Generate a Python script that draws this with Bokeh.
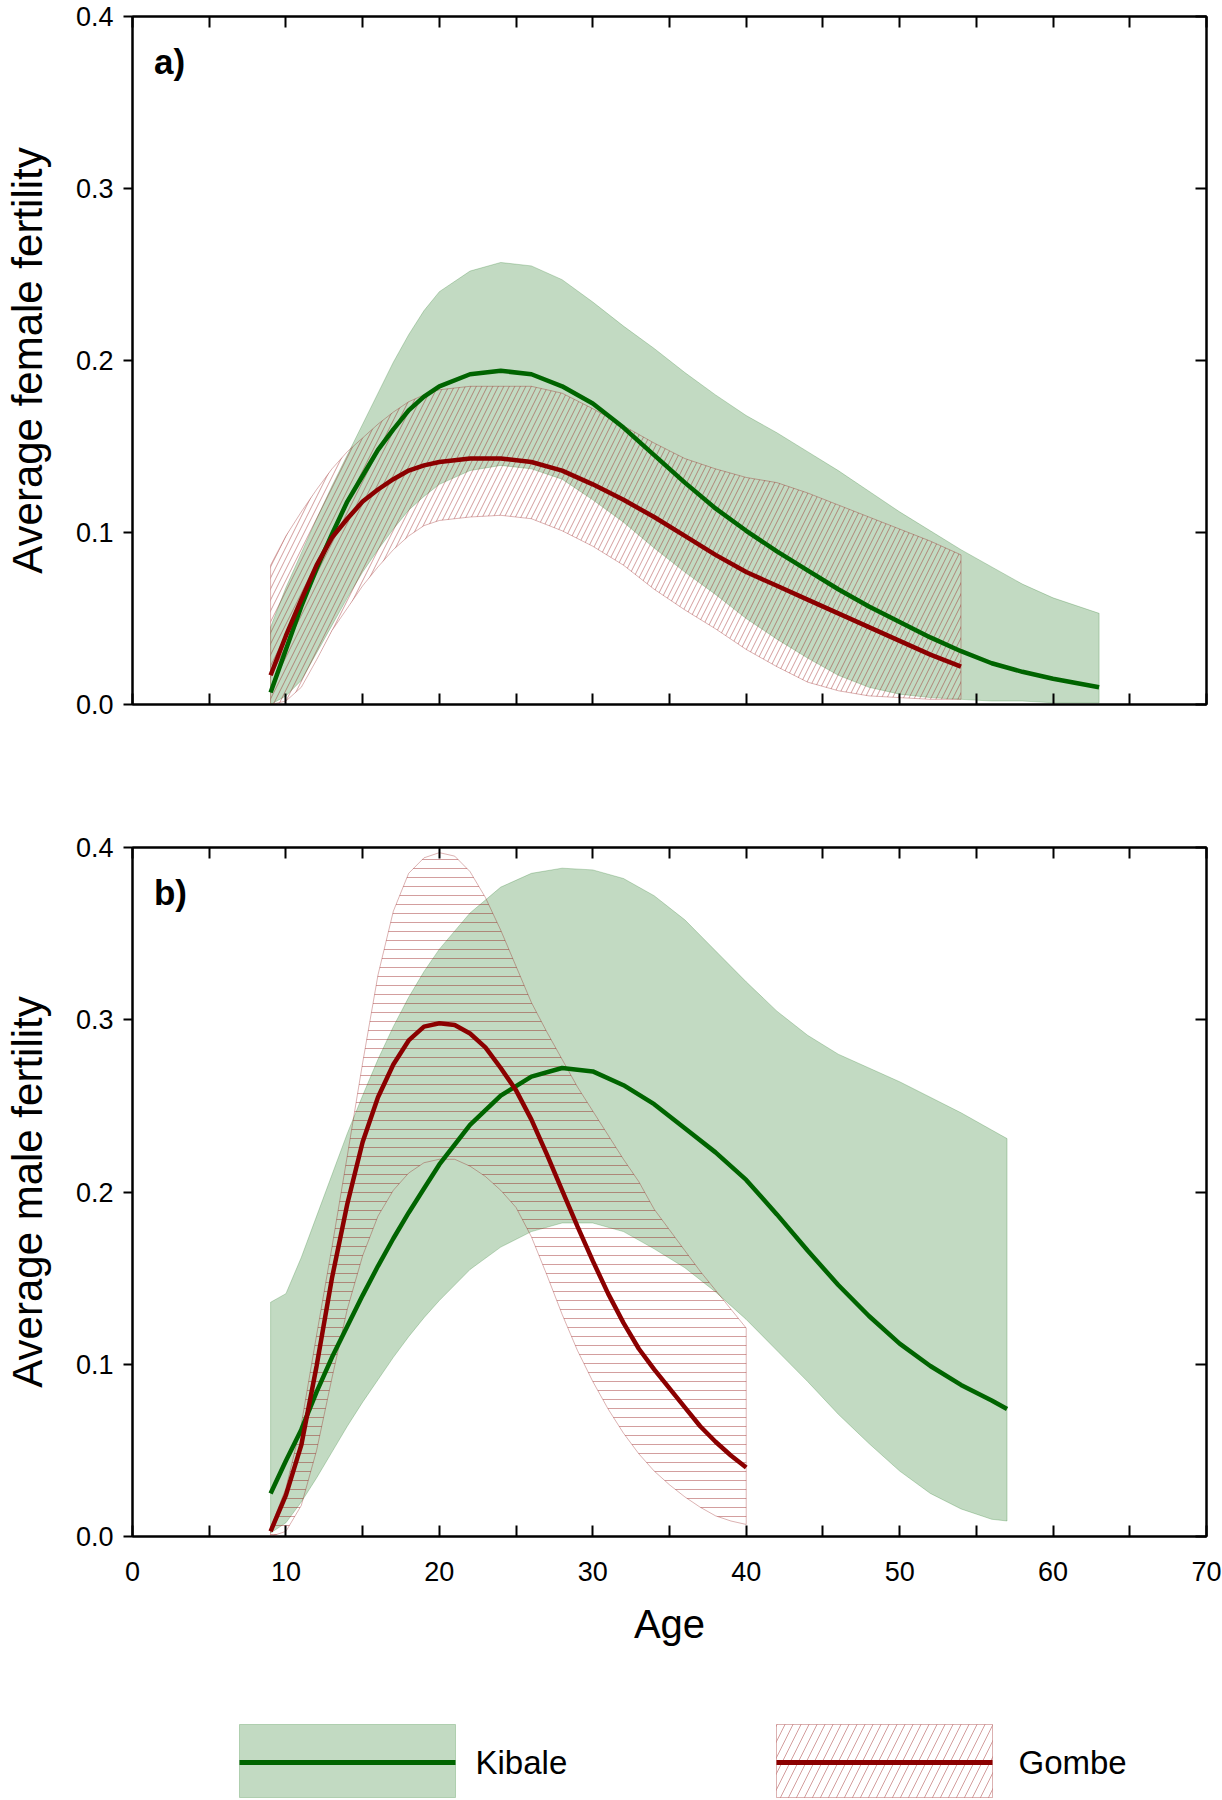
from bokeh.plotting import figure
from bokeh.models import Range1d, LinearAxis, FixedTicker, PrintfTickFormatter, Label
from bokeh.layouts import column
from bokeh.embed import file_html
from bokeh.resources import INLINE
from bokeh.core.properties import value

# ---------------- data ----------------
# a) females
age_f_kib = [9, 10, 11, 12, 13, 14, 15, 16, 17, 18, 19, 20, 22, 24, 26, 28, 30, 32, 34, 36, 38, 40,
             42, 44, 46, 48, 50, 52, 54, 56, 58, 60, 63]
kib_f_mean = [0.007, 0.032, 0.057, 0.079, 0.099, 0.118, 0.133, 0.148, 0.160, 0.171, 0.179, 0.185,
              0.192, 0.194, 0.192, 0.185, 0.175, 0.161, 0.145, 0.129, 0.114, 0.101,
              0.089, 0.078, 0.067, 0.057, 0.048, 0.039, 0.031, 0.024, 0.019, 0.015, 0.010]
kib_f_upper = [0.045, 0.068, 0.088, 0.108, 0.127, 0.145, 0.163, 0.181, 0.199, 0.215, 0.229, 0.240,
               0.252, 0.257, 0.255, 0.247, 0.234, 0.220, 0.207, 0.193, 0.180, 0.168,
               0.158, 0.147, 0.136, 0.124, 0.112, 0.101, 0.090, 0.080, 0.070, 0.062, 0.053]
kib_f_lower = [0.000, 0.005, 0.014, 0.030, 0.046, 0.062, 0.077, 0.090, 0.102, 0.113, 0.121, 0.128,
               0.136, 0.139, 0.137, 0.131, 0.119, 0.106, 0.091, 0.077, 0.064, 0.050,
               0.038, 0.027, 0.017, 0.010, 0.006, 0.004, 0.003, 0.002, 0.002, 0.001, 0.001]

age_f_gom = [9, 10, 11, 12, 13, 14, 15, 16, 17, 18, 19, 20, 22, 24, 26, 28, 30, 32, 34, 36, 38, 40,
             42, 44, 46, 48, 50, 52, 54]
gom_f_mean = [0.017, 0.040, 0.061, 0.081, 0.097, 0.108, 0.118, 0.125, 0.131, 0.136, 0.139, 0.141,
              0.143, 0.143, 0.141, 0.136, 0.128, 0.119, 0.109, 0.098, 0.087, 0.077,
              0.069, 0.061, 0.053, 0.045, 0.037, 0.029, 0.022]
gom_f_upper = [0.081, 0.098, 0.112, 0.125, 0.137, 0.147, 0.155, 0.163, 0.170, 0.176, 0.180, 0.183,
               0.185, 0.185, 0.185, 0.181, 0.172, 0.162, 0.152, 0.143, 0.137, 0.132,
               0.129, 0.123, 0.116, 0.109, 0.102, 0.095, 0.087]
gom_f_lower = [0.000, 0.002, 0.010, 0.026, 0.043, 0.056, 0.069, 0.080, 0.090, 0.098, 0.104, 0.107,
               0.109, 0.110, 0.108, 0.101, 0.092, 0.081, 0.067, 0.055, 0.044, 0.032,
               0.022, 0.013, 0.008, 0.005, 0.004, 0.003, 0.003]

# b) males
age_m_kib = [9, 10, 11, 12, 13, 14, 15, 16, 17, 18, 19, 20, 22, 24, 26, 28, 30, 32, 34, 36, 38, 40,
             42, 44, 46, 48, 50, 52, 54, 56, 57]
kib_m_mean = [0.025, 0.044, 0.062, 0.084, 0.104, 0.122, 0.140, 0.157, 0.173, 0.188, 0.202, 0.216,
              0.239, 0.256, 0.267, 0.272, 0.270, 0.262, 0.251, 0.237, 0.223, 0.207,
              0.187, 0.166, 0.146, 0.128, 0.112, 0.099, 0.088, 0.079, 0.074]
kib_m_upper = [0.136, 0.141, 0.162, 0.186, 0.210, 0.234, 0.256, 0.277, 0.296, 0.313, 0.328, 0.341,
               0.362, 0.377, 0.385, 0.388, 0.387, 0.382, 0.372, 0.358, 0.340, 0.322,
               0.305, 0.291, 0.280, 0.272, 0.264, 0.255, 0.246, 0.236, 0.231]
kib_m_lower = [0.002, 0.008, 0.020, 0.034, 0.049, 0.064, 0.078, 0.091, 0.104, 0.116, 0.127, 0.137,
               0.155, 0.168, 0.177, 0.182, 0.182, 0.177, 0.167, 0.156, 0.142, 0.126,
               0.108, 0.090, 0.071, 0.054, 0.038, 0.025, 0.016, 0.010, 0.009]

age_m_gom = [9, 10, 11, 12, 13, 14, 15, 16, 17, 18, 19, 20, 21, 22, 23, 24, 25, 26, 27, 28, 29, 30,
             31, 32, 33, 34, 35, 36, 37, 38, 39, 40]
gom_m_mean = [0.003, 0.024, 0.053, 0.099, 0.150, 0.193, 0.229, 0.255, 0.274, 0.288, 0.296, 0.298,
              0.297, 0.292, 0.284, 0.272, 0.259, 0.242, 0.222, 0.201, 0.180, 0.160,
              0.141, 0.124, 0.109, 0.097, 0.086, 0.075, 0.064, 0.055, 0.047, 0.040]
gom_m_upper = [0.005, 0.028, 0.065, 0.117, 0.168, 0.221, 0.275, 0.326, 0.363, 0.385, 0.394, 0.397,
               0.395, 0.386, 0.371, 0.352, 0.331, 0.310, 0.293, 0.277, 0.261, 0.247,
               0.233, 0.219, 0.206, 0.190, 0.178, 0.166, 0.154, 0.143, 0.132, 0.121]
gom_m_lower = [0.000, 0.003, 0.018, 0.050, 0.092, 0.132, 0.163, 0.186, 0.201, 0.211, 0.217, 0.219,
               0.219, 0.215, 0.209, 0.201, 0.191, 0.174, 0.152, 0.129, 0.108, 0.090,
               0.074, 0.060, 0.048, 0.038, 0.030, 0.023, 0.017, 0.012, 0.009, 0.007]

x_major_ticks = [0, 10, 20, 30, 40, 50, 60, 70]
x_minor_ticks = [5, 15, 25, 35, 45, 55, 65]
y_ticks = [0.0, 0.1, 0.2, 0.3, 0.4]
series_names = ["Kibale", "Gombe"]
panel_tags = ["a)", "b)"]
y_titles = ["Average female fertility", "Average male fertility"]
x_title = "Age"

# ---------------- style ----------------
GREEN = "#006400"
RED = "#8b0000"
FONT = "Liberation Sans"
FIG_W = 1222
B_LEFT, B_RIGHT = 132, 16


def style_axis(ax, show_labels=True):
    ax.axis_line_width = 2
    ax.axis_line_color = "black"
    ax.major_tick_line_width = 2
    ax.major_tick_line_color = "black"
    ax.minor_tick_line_width = 2
    ax.minor_tick_line_color = "black"
    ax.major_label_text_font = FONT
    ax.major_label_text_font_size = "27px"
    ax.major_label_text_color = "black"
    ax.axis_label_text_font = FONT
    ax.axis_label_text_font_size = "42px"
    ax.axis_label_text_font_style = "normal"
    ax.axis_label_text_color = "black"
    if not show_labels:
        ax.major_label_text_color = None
        ax.major_label_text_font_size = "1px"
        ax.major_label_standoff = 0


def x_axis(show_labels):
    ax = LinearAxis(ticker=FixedTicker(ticks=x_major_ticks, minor_ticks=x_minor_ticks),
                    major_tick_in=11, major_tick_out=0, minor_tick_in=11, minor_tick_out=0)
    style_axis(ax, show_labels)
    return ax


def y_axis(show_labels, inside):
    ax = LinearAxis(ticker=FixedTicker(ticks=y_ticks, minor_ticks=[]),
                    formatter=PrintfTickFormatter(format="%.1f"),
                    major_tick_in=11 if inside else 0, major_tick_out=0 if inside else 9,
                    minor_tick_in=0, minor_tick_out=0)
    style_axis(ax, show_labels)
    return ax


def make_panel(height, top, bottom, ytitle, tag, show_x):
    p = figure(width=FIG_W, height=height, x_range=Range1d(0, 70), y_range=Range1d(0, 0.4),
               x_axis_type=None, y_axis_type=None, output_backend="svg", toolbar_location=None,
               min_border_left=B_LEFT, min_border_right=B_RIGHT,
               min_border_top=top, min_border_bottom=bottom)
    p.outline_line_color = "black"
    p.outline_line_width = 2
    p.background_fill_color = "white"
    p.border_fill_color = "white"

    xb = x_axis(show_x)
    if show_x:
        xb.major_label_standoff = 25
        xb.axis_label = x_title
        xb.axis_label_standoff = 18
        xb.axis_label_text_font_size = "40px"
    p.add_layout(xb, "below")
    p.add_layout(x_axis(False), "above")

    yl = y_axis(True, False)
    yl.major_label_standoff = 10
    yl.axis_label = ytitle
    yl.axis_label_standoff = 22
    p.add_layout(yl, "left")
    p.add_layout(y_axis(False, True), "right")

    p.add_layout(Label(x=1.4, y=0.374, text=tag, text_font=FONT, text_font_style="bold",
                       text_font_size="35px", text_baseline="middle", text_color="black"))
    return p


def add_bands(p, ak, km, ku, kl, ag, gm, gu, gl, hatch, scale):
    # Kibale: solid translucent green band
    p.patch(ak + ak[::-1], ku + kl[::-1], fill_color=GREEN, fill_alpha=0.24,
            line_color=GREEN, line_alpha=0.22, line_width=1)
    # Gombe: hatched band
    p.patch(ag + ag[::-1], gu + gl[::-1], fill_alpha=0, hatch_pattern=hatch,
            hatch_color=RED, hatch_alpha=0.38, hatch_scale=scale,
            hatch_weight=1, line_color=RED, line_alpha=0.3, line_width=1)
    p.line(ak, km, line_color=GREEN, line_width=4.5)
    p.line(ag, gm, line_color=RED, line_width=4.5)


p1 = make_panel(800, 16, 96, y_titles[0], panel_tags[0], False)
add_bands(p1, age_f_kib, kib_f_mean, kib_f_upper, kib_f_lower,
          age_f_gom, gom_f_mean, gom_f_upper, gom_f_lower, "/", 11)

p2 = make_panel(900, 47, 164, y_titles[1], panel_tags[1], True)
add_bands(p2, age_m_kib, kib_m_mean, kib_m_upper, kib_m_lower,
          age_m_gom, gom_m_mean, gom_m_upper, gom_m_lower, "-", 9)

# ---------------- legend strip (x in page pixels, y from strip top) ----------------
LEG_H = 99
p3 = figure(width=FIG_W, height=LEG_H, x_range=Range1d(B_LEFT, FIG_W - B_RIGHT),
            y_range=Range1d(LEG_H, 0), x_axis_type=None, y_axis_type=None,
            output_backend="svg", toolbar_location=None,
            min_border_left=B_LEFT, min_border_right=B_RIGHT, min_border_top=0, min_border_bottom=0)
p3.outline_line_color = None
p3.background_fill_color = "white"
p3.border_fill_color = "white"

box_left = [239, 776]
box_right = [455, 992]
box_top, box_bottom, line_y = 24, 97, 62
p3.quad(left=[box_left[0]], right=[box_right[0]], top=[box_top], bottom=[box_bottom],
        fill_color=GREEN, fill_alpha=0.24, line_color=GREEN, line_alpha=0.22, line_width=1)
p3.quad(left=[box_left[1]], right=[box_right[1]], top=[box_top], bottom=[box_bottom],
        fill_alpha=0, hatch_pattern="/", hatch_color=RED, hatch_alpha=0.38, hatch_scale=16,
        hatch_weight=1, line_color=RED, line_alpha=0.3, line_width=1)
p3.segment(x0=[box_left[0]], x1=[box_right[0]], y0=[line_y], y1=[line_y], line_color=GREEN, line_width=5)
p3.segment(x0=[box_left[1]], x1=[box_right[1]], y0=[line_y], y1=[line_y], line_color=RED, line_width=5)
p3.text(x=[475, 1018], y=[line_y, line_y], text=series_names, text_font=value(FONT),
        text_font_size=value("33px"), text_baseline="middle", text_align="left",
        text_color="black")

layout = column(p1, p2, p3, spacing=0)
open("out.html", "w").write(file_html(layout, INLINE))
